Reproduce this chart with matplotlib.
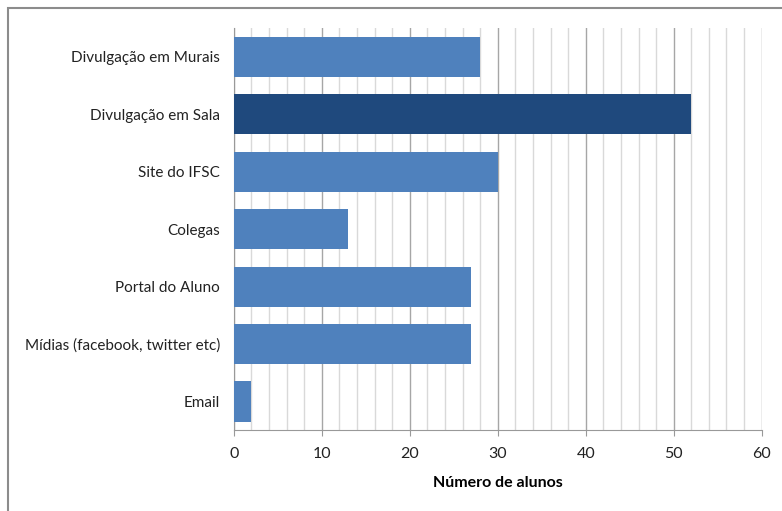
import matplotlib
matplotlib.use('Agg')
import matplotlib.pyplot as plt
from matplotlib.patches import Rectangle

# data
categorias = ['Divulgação em Murais', 'Divulgação em Sala', 'Site do IFSC',
              'Colegas', 'Portal do Aluno', 'Mídias (facebook, twitter etc)', 'Email']
alunos = [28, 52, 30, 13, 27, 27, 2]
destaque = 'Divulgação em Sala'

plt.rcParams['font.family'] = ['Lato', 'DejaVu Sans']

fig = plt.figure(figsize=(7.82, 5.11), dpi=100)
ax = fig.add_axes([0.299, 0.158, 0.675, 0.787])

# gray frame around the chart area
fig.patches.append(Rectangle((8 / 782, -0.05), 1.1, 1 - 8 / 511 + 0.05,
                             transform=fig.transFigure, fill=False,
                             edgecolor='#8c8c8c', linewidth=1.5))

cores = ['#1f497d' if c == destaque else '#4f81bd' for c in categorias]
y = list(range(len(categorias)))
ax.barh(y, alunos, height=0.7, color=cores, zorder=3)

ax.set_xlim(0, 60)
ax.set_ylim(len(categorias) - 0.5, -0.5)
ax.set_xticks(range(0, 61, 10))
ax.set_xticks(range(0, 61, 2), minor=True)
ax.set_yticks(y)
ax.set_yticklabels(categorias, fontsize=11, color='#222222')
ax.tick_params(axis='y', length=0, pad=10)
ax.tick_params(axis='x', which='major', length=4, color='#999999',
               labelsize=11.5, labelcolor='#222222', pad=8)
ax.tick_params(axis='x', which='minor', length=0)

ax.grid(axis='x', which='major', color='#a6a6a6', linewidth=1, zorder=0)
ax.grid(axis='x', which='minor', color='#d9d9d9', linewidth=1, zorder=0)

for s in ['top', 'right']:
    ax.spines[s].set_visible(False)
for s in ['left', 'bottom']:
    ax.spines[s].set_color('#999999')

ax.set_xlabel('Número de alunos', fontsize=11.5, fontweight='bold', labelpad=11)

fig.savefig('out.png', dpi=100)
